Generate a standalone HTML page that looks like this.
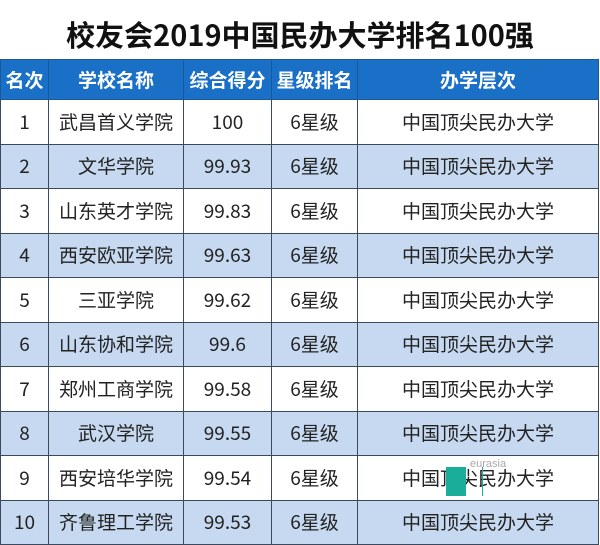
<!DOCTYPE html>
<html><head><meta charset="utf-8"><style>
body{margin:0;width:600px;height:545px;background:#fff;overflow:hidden;font-family:"Noto Sans CJK SC","Liberation Sans",sans-serif;position:relative}
.title{position:absolute;top:14px;left:0;width:600px;text-align:center;font-size:29px;font-weight:bold;color:#111;line-height:40px}
table{position:absolute;top:59px;left:0;border-collapse:collapse;table-layout:fixed;width:599px}
td{border:1px solid #3a4a5c;text-align:center;font-size:19px;color:#222;height:43.5px;padding:0;line-height:22px}
tr.h td{background:#1a6fc6;color:#fff;font-weight:bold;height:39px;font-size:19px;border-color:#1a5a9a}
tr.b td{background:#c6d9f0}
</style></head><body>
<div class="title">校友会2019中国民办大学排名100强</div>
<table>
<colgroup><col style="width:48px"><col style="width:135px"><col style="width:88px"><col style="width:86px"><col></colgroup>
<tr class="h"><td>名次</td><td>学校名称</td><td>综合得分</td><td>星级排名</td><td>办学层次</td></tr>
<tr><td>1</td><td>武昌首义学院</td><td>100</td><td>6星级</td><td>中国顶尖民办大学</td></tr>
<tr class="b"><td>2</td><td>文华学院</td><td>99.93</td><td>6星级</td><td>中国顶尖民办大学</td></tr>
<tr><td>3</td><td>山东英才学院</td><td>99.83</td><td>6星级</td><td>中国顶尖民办大学</td></tr>
<tr class="b"><td>4</td><td>西安欧亚学院</td><td>99.63</td><td>6星级</td><td>中国顶尖民办大学</td></tr>
<tr><td>5</td><td>三亚学院</td><td>99.62</td><td>6星级</td><td>中国顶尖民办大学</td></tr>
<tr class="b"><td>6</td><td>山东协和学院</td><td>99.6</td><td>6星级</td><td>中国顶尖民办大学</td></tr>
<tr><td>7</td><td>郑州工商学院</td><td>99.58</td><td>6星级</td><td>中国顶尖民办大学</td></tr>
<tr class="b"><td>8</td><td>武汉学院</td><td>99.55</td><td>6星级</td><td>中国顶尖民办大学</td></tr>
<tr><td>9</td><td>西安培华学院</td><td>99.54</td><td>6星级</td><td>中国顶尖民办大学</td></tr>
<tr class="b"><td>10</td><td>齐鲁理工学院</td><td>99.53</td><td>6星级</td><td>中国顶尖民办大学</td></tr>
</table>
<div style="position:absolute;left:446px;top:467px;width:20px;height:29px;background:#1aae9a"></div>
<div style="position:absolute;left:482px;top:467px;width:1px;height:29px;background:#1aae9a"></div>
<div style="position:absolute;left:470px;top:458px;font-size:11px;color:#aaa;font-family:'Liberation Sans',sans-serif">eurasia</div>
</body></html>
